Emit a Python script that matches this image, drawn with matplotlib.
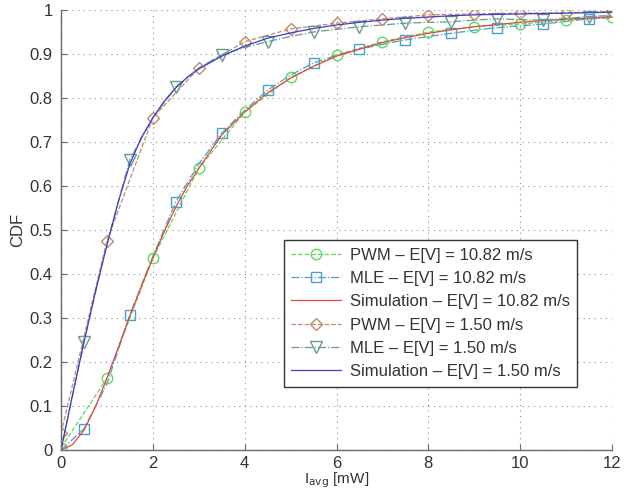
import matplotlib
matplotlib.use('Agg')
import matplotlib.pyplot as plt
import numpy as np

plt.rcParams['font.family'] = ['Liberation Sans', 'DejaVu Sans']

# x positions
x_pwm = [0, 1, 2, 3, 4, 5, 6, 7, 8, 9, 10, 11, 12]
x_mle = [0, 0.5, 1, 1.5, 2, 2.5, 3, 3.5, 4, 4.5, 5, 5.5, 6, 6.5, 7, 7.5, 8,
         8.5, 9, 9.5, 10, 10.5, 11, 11.5, 12]
x_sim = [0, 0.25, 0.5, 0.75, 1, 1.25, 1.5, 1.75, 2, 2.25, 2.5, 2.75, 3, 3.5,
         4, 4.5, 5, 5.5, 6, 6.5, 7, 7.5, 8, 8.5, 9, 9.5, 10, 10.5, 11, 11.5, 12]

# E[V] = 10.82 m/s
pwm_10 = [0.005, 0.163, 0.436, 0.64, 0.768, 0.847, 0.898, 0.928, 0.95, 0.962,
          0.968, 0.977, 0.984]
mle_10 = [0.0, 0.048, 0.15, 0.307, 0.44, 0.564, 0.65, 0.72, 0.772, 0.818,
          0.852, 0.88, 0.897, 0.911, 0.922, 0.932, 0.94, 0.947, 0.954, 0.96,
          0.964, 0.968, 0.974, 0.98, 0.982]
sim_10 = [0.0, 0.012, 0.045, 0.098, 0.163, 0.234, 0.305, 0.372, 0.436, 0.497,
          0.552, 0.6, 0.64, 0.716, 0.768, 0.812, 0.845, 0.872, 0.895, 0.911,
          0.926, 0.937, 0.947, 0.955, 0.962, 0.967, 0.972, 0.976, 0.979, 0.982,
          0.985]

# E[V] = 1.50 m/s
pwm_15 = [0.038, 0.475, 0.755, 0.868, 0.928, 0.957, 0.97, 0.98, 0.989, 0.991,
          0.993, 0.993, 0.997]
mle_15 = [0.0, 0.245, 0.47, 0.66, 0.755, 0.825, 0.868, 0.898, 0.915, 0.928,
          0.94, 0.95, 0.956, 0.962, 0.966, 0.97, 0.972, 0.973, 0.977, 0.98,
          0.978, 0.977, 0.981, 0.985, 0.988]
sim_15 = [0.0, 0.125, 0.245, 0.36, 0.465, 0.565, 0.65, 0.71, 0.755, 0.793,
          0.823, 0.847, 0.866, 0.895, 0.918, 0.936, 0.948, 0.958, 0.966, 0.972,
          0.977, 0.981, 0.984, 0.987, 0.989, 0.99, 0.991, 0.992, 0.993, 0.994,
          0.995]

labels = ['PWM – E[V] = 10.82 m/s', 'MLE – E[V] = 10.82 m/s',
          'Simulation – E[V] = 10.82 m/s', 'PWM – E[V] = 1.50 m/s',
          'MLE – E[V] = 1.50 m/s', 'Simulation – E[V] = 1.50 m/s']

fig = plt.figure(figsize=(6.33, 4.91), dpi=100)
ax = fig.add_axes([61 / 633, 41 / 491, 551 / 633, 440 / 491])

ms = 7.5
lw = 0.9
ax.plot(x_pwm, pwm_10, '--o', color='#62d85a', mfc='none', ms=ms, lw=lw, label=labels[0])
ax.plot(x_mle, mle_10, '-.s', color='#4aa0cc', mfc='none', ms=ms, lw=lw,
        markevery=slice(1, None, 2), label=labels[1])
ax.plot(x_sim, sim_10, '-', color='#e5473a', lw=lw, label=labels[2])
ax.plot(x_pwm, pwm_15, '--D', color='#c48a68', mfc='none', ms=ms - 1, lw=lw, label=labels[3])
ax.plot(x_mle, mle_15, '-.v', color='#6a9a8e', mfc='none', ms=ms + 0.5, lw=lw,
        markevery=slice(1, None, 2), label=labels[4])
ax.plot(x_sim, sim_15, '-', color='#3d3dcc', lw=lw, label=labels[5])

ax.set_xlim(0, 12)
ax.set_ylim(0, 1)
ax.set_xticks(np.arange(0, 13, 2))
ax.set_yticks(np.arange(0, 1.01, 0.1))
ax.set_yticklabels(['0', '0.1', '0.2', '0.3', '0.4', '0.5', '0.6', '0.7',
                    '0.8', '0.9', '1'])
ax.grid(True, linestyle=(0, (1, 4)), color='#8a8a8a', lw=0.8)
for s in ['top', 'right']:
    ax.spines[s].set_visible(False)
for s in ['left', 'bottom']:
    ax.spines[s].set_color('#6a6a6a')
    ax.spines[s].set_linewidth(1.0)
ax.tick_params(direction='in', length=4, color='#6a6a6a', labelsize=12,
               labelcolor='#333333', pad=6)
ax.tick_params(axis='x', pad=4)

ax.set_ylabel('CDF', fontsize=12, color='#333333', labelpad=3)
ax.set_xlabel(r'I$_{\mathrm{avg}}$ [mW]', fontsize=11, color='#333333',
              va='bottom')
ax.xaxis.set_label_coords(0.5, -39.5 / 440)

leg = ax.legend(loc='upper right', bbox_to_anchor=(0.937, 0.477), fontsize=12,
                handlelength=3, labelspacing=0.5, borderaxespad=0,
                fancybox=False, framealpha=1, edgecolor='#333333',
                borderpad=0.45, handletextpad=0.5)
leg.get_frame().set_linewidth(1.0)
for t in leg.get_texts():
    t.set_color('#333333')

fig.savefig('out.png', dpi=100)
